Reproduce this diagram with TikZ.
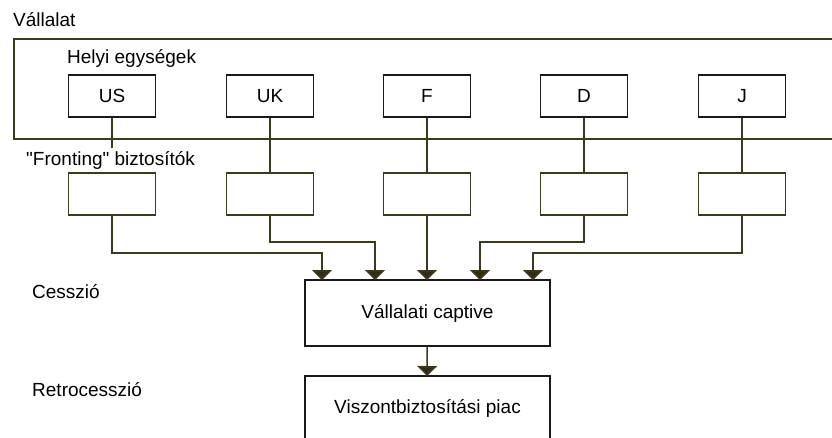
\documentclass[tikz,border=0pt]{standalone}
\usepackage{fontspec}
\setmainfont{Liberation Sans}
\usepackage{tikz}
\usetikzlibrary{arrows.meta, positioning}
\definecolor{wire}{RGB}{60,58,30}
\tikzstyle{frame} = [draw=wire, line width=1.5pt, minimum width=836pt, minimum height=100pt]
\tikzstyle{unit} = [draw=black!90, line width=1.5pt, minimum width=87pt, minimum height=42pt]
\tikzstyle{fronter} = [draw=wire, line width=1.5pt, minimum width=87pt, minimum height=42pt]
\tikzstyle{bigbox} = [draw=black!90, line width=1.5pt, minimum width=245pt]
\tikzstyle{caption} = [anchor=west, inner sep=0pt]
\tikzstyle{wireline} = [draw=wire, line width=1.5pt]
\tikzstyle{flow} = [wireline, -{Triangle[width=20pt, length=10pt, fill=wire!80!black]}]

\begin{document}
\begin{tikzpicture}[x=1pt, y=-1pt, font=\fontsize{19}{22}\selectfont]
				\useasboundingbox (0, 0) rectangle (832, 438);
				\clip (0, 0) rectangle (832, 438);

				\node (Corp) [frame] at (432, 89) {};
				\node (CorpLabel) [caption] at (13, 20) {Vállalat};
				\node (UnitLabel) [caption] at (67, 58) {Helyi egységek};

				% local units
				\node (US) [unit] at (112, 96) {US};
				\node (UK) [unit] at (270, 96) {UK};
				\node (F) [unit] at (427, 96) {F};
				\node (D) [unit] at (584, 96) {D};
				\node (J) [unit] at (742, 96) {J};

				% fronting insurers
				\node (USFront) [fronter] at (112, 194) {};
				\node (UKFront) [fronter] at (270, 194) {};
				\node (FFront) [fronter] at (427, 194) {};
				\node (DFront) [fronter] at (584, 194) {};
				\node (JFront) [fronter] at (742, 194) {};

				\draw [wireline] (US) -- (USFront);
				\draw [wireline] (UK) -- (UKFront);
				\draw [wireline] (F) -- (FFront);
				\draw [wireline] (D) -- (DFront);
				\draw [wireline] (J) -- (JFront);

				\node (FrontLabel) [caption, fill=white, inner ysep=3pt] at (26, 160) {\textquotedbl Fronting\textquotedbl{} biztosítók};

				% the captive
				\node (Captive) [bigbox, minimum height=66pt] at (427.5, 313) {Vállalati captive};
				\node (CessLabel) [caption] at (32, 292) {Cesszió};

				\coordinate (USDown) at (112, 253);
				\coordinate (USIn) at (322, 280);
				\draw [flow] (USFront) -- (USDown) -| (USIn);

				\coordinate (UKDown) at (270, 242);
				\coordinate (UKIn) at (375, 280);
				\draw [flow] (UKFront) -- (UKDown) -| (UKIn);

				\coordinate (FIn) at (427, 280);
				\draw [flow] (FFront) -- (FIn);

				\coordinate (DDown) at (584, 242);
				\coordinate (DIn) at (480, 280);
				\draw [flow] (DFront) -- (DDown) -| (DIn);

				\coordinate (JDown) at (742, 253);
				\coordinate (JIn) at (533, 280);
				\draw [flow] (JFront) -- (JDown) -| (JIn);

				% reinsurance market
				\node (Market) [bigbox, minimum height=64pt] at (427.5, 408) {Viszontbiztosítási piac};
				\node (RetroLabel) [caption] at (32, 390) {Retrocesszió};

				\coordinate (MarketIn) at (427, 376);
				\draw [flow] (Captive) -- (MarketIn);
			\end{tikzpicture}
\end{document}
